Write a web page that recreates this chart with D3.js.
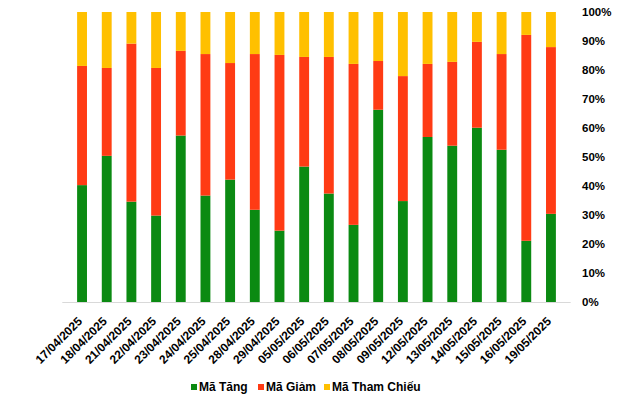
<!DOCTYPE html>
<html>
<head>
<meta charset="utf-8">
<script src="https://cdn.jsdelivr.net/npm/d3@7"></script>
<style>
  body { margin: 0; background: #fff; }
  text { font-family: "Liberation Sans", Arial, sans-serif; }
</style>
</head>
<body>
<svg id="chart" width="640" height="397"></svg>
<script>
const dates = [
  "17/04/2025", "18/04/2025", "21/04/2025", "22/04/2025", "23/04/2025",
  "24/04/2025", "25/04/2025", "28/04/2025", "29/04/2025", "05/05/2025",
  "06/05/2025", "07/05/2025", "08/05/2025", "09/05/2025", "12/05/2025",
  "13/05/2025", "14/05/2025", "15/05/2025", "16/05/2025", "19/05/2025"
];
const maTang = [40.3, 50.4, 34.6, 29.8, 57.4, 36.7, 42.2, 31.8, 24.6, 46.7,
  37.4, 26.6, 66.3, 34.8, 56.9, 53.9, 60.1, 52.5, 21.1, 30.4];
const maGiam = [41.1, 30.3, 54.5, 50.9, 29.2, 48.8, 40.2, 53.7, 60.6, 37.8,
  47.1, 55.5, 16.8, 43.1, 25.2, 28.9, 29.6, 33.0, 71.0, 57.5];
const maThamChieu = [18.6, 19.3, 10.9, 19.3, 13.4, 14.5, 17.6, 14.5, 14.8, 15.5,
  15.5, 17.9, 16.9, 22.1, 17.9, 17.2, 10.3, 14.5, 7.9, 12.1];
const seriesNames = ["Mã Tăng", "Mã Giảm", "Mã Tham Chiếu"];
const seriesColors = ["#0b8a12", "#ff3b14", "#ffc000"];
const yTicks = [0, 10, 20, 30, 40, 50, 60, 70, 80, 90, 100];

const rows = dates.map((d, i) => ({
  date: d,
  [seriesNames[0]]: maTang[i],
  [seriesNames[1]]: maGiam[i],
  [seriesNames[2]]: maThamChieu[i]
}));

const svg = d3.select("#chart");
const plotLeft = 62.3, plotRight = 570.7, plotTop = 12, plotBottom = 302;

const x = d3.scaleBand().domain(dates).range([plotLeft, plotRight]).padding(0.6);
const y = d3.scaleLinear().domain([0, 100]).range([plotBottom, plotTop]);
const stacked = d3.stack().keys(seriesNames)(rows);

svg.append("g")
  .selectAll("g")
  .data(stacked)
  .join("g")
  .attr("fill", (s, i) => seriesColors[i])
  .selectAll("rect")
  .data((s) => s)
  .join("rect")
  .attr("x", (d) => x(d.data.date))
  .attr("width", x.bandwidth())
  .attr("y", (d) => y(d[1]))
  .attr("height", (d) => y(d[0]) - y(d[1]));

// baseline
svg.append("line")
  .attr("x1", plotLeft).attr("x2", plotRight)
  .attr("y1", plotBottom + 0.5).attr("y2", plotBottom + 0.5)
  .attr("stroke", "#d9d9d9").attr("stroke-width", 1);

// right-side y axis
const yAxis = svg.append("g")
  .attr("transform", `translate(580,0)`)
  .call(d3.axisRight(y).tickValues(yTicks).tickSize(0).tickPadding(2).tickFormat((d) => d + "%"));
yAxis.select(".domain").remove();
yAxis.selectAll("text")
  .attr("font-size", 11.5)
  .attr("font-weight", "bold")
  .attr("fill", "#000");

// x labels
const xAxis = svg.append("g")
  .attr("transform", `translate(0,${plotBottom})`)
  .call(d3.axisBottom(x).tickSize(0).tickPadding(0));
xAxis.select(".domain").remove();
xAxis.selectAll("text")
  .attr("font-size", 12)
  .attr("font-weight", "bold")
  .attr("fill", "#000")
  .attr("text-anchor", "end")
  .attr("dy", "0.35em")
  .attr("transform", "translate(-2,17) rotate(-45)");

// legend
const legendItems = [
  { x: 191, name: seriesNames[0], color: seriesColors[0] },
  { x: 258, name: seriesNames[1], color: seriesColors[1] },
  { x: 324, name: seriesNames[2], color: seriesColors[2] }
];
const legend = svg.append("g").attr("transform", "translate(0,387)");
legendItems.forEach((item) => {
  legend.append("rect")
    .attr("x", item.x).attr("y", -3)
    .attr("width", 6).attr("height", 6)
    .attr("fill", item.color);
  legend.append("text")
    .attr("x", item.x + 8).attr("y", 0)
    .attr("dy", "0.35em")
    .attr("font-size", 12)
    .attr("font-weight", "bold")
    .attr("fill", "#000")
    .text(item.name);
});
</script>
</body>
</html>
